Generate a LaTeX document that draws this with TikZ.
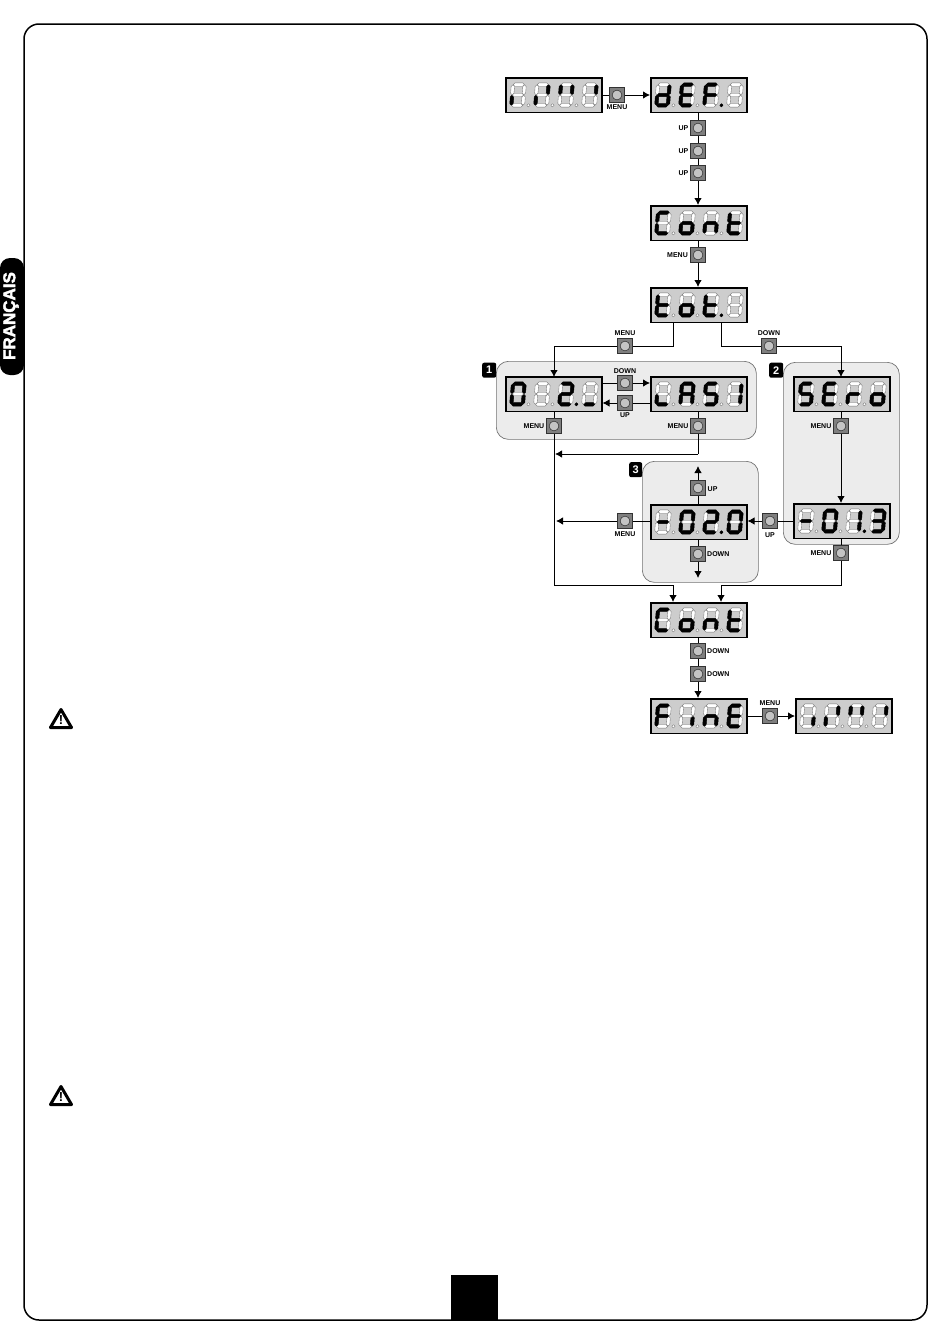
\documentclass[tikz,border=0pt]{standalone}
\usepackage{fontspec}
\setmainfont{Liberation Sans}
\newfontfamily\heavyfont[FakeBold=2.5]{Liberation Sans Bold}
\usetikzlibrary{arrows.meta}
\definecolor{lcd}{HTML}{CDCDCD}
\definecolor{panel}{HTML}{ECECEC}
\definecolor{btngray}{HTML}{7F7F7F}
\definecolor{btnlight}{HTML}{C4C4C4}
\tikzset{
  seglit/.style={fill=black,draw=black,line width=.5pt,line join=round},
  segoff/.style={fill=white,draw=black!55,line width=.35pt},
  dispbox/.style={draw=black,fill=lcd,line width=1.5pt,minimum width=96pt,minimum height=34.5pt,inner sep=0pt,anchor=north west},
  btn/.style={draw=black!80,fill=btngray,line width=.7pt,minimum size=14.5pt,inner sep=0pt,
    path picture={\draw[fill=btnlight,draw=black!85,line width=.5pt] (path picture bounding box.center) circle (4.9pt);}},
  lbl/.style={font=\bfseries\fontsize{7}{7}\selectfont,inner sep=0pt,text=black},
  wire/.style={draw=black,line width=.95pt},
  arrowwire/.style={wire,-{Latex[length=7pt,width=7.5pt]}},
  panelbox/.style={draw=black!55,fill=panel,line width=.7pt,rounded corners=12pt,inner sep=0pt,anchor=north west},
  badge/.style={fill=black,text=white,rounded corners=2pt,inner sep=0pt,minimum width=14pt,minimum height=15pt,anchor=north west,font=\bfseries\fontsize{11}{11}\selectfont},
}
\makeatletter
\newcommand\pickseg[2]{\in@{#1}{#2}\ifin@\def\segsty{seglit}\else\def\segsty{segoff}\fi}
\newcommand\dotseg[1]{\in@{x}{#1}\ifin@\else\path[\segsty] (18.8,-1.7) circle (1.6);\fi}
\makeatother
\newcommand\hseg[3]{\path[\segsty] (#1,#3) -- ({#1+1.7},{#3-1.7}) -- ({#2-1.7},{#3-1.7}) -- (#2,#3) -- ({#2-1.7},{#3+1.7}) -- ({#1+1.7},{#3+1.7}) -- cycle;}
\newcommand\vseg[3]{\path[\segsty] (#1,#2) -- ({#1+1.7},{#2+1.7}) -- ({#1+1.7},{#3-1.7}) -- (#1,#3) -- ({#1-1.7},{#3-1.7}) -- ({#1-1.7},{#2+1.7}) -- cycle;}
\newcommand\sevenseg[3]{%
  \begin{scope}[shift={(#1,#2)},xslant=0.08]
    \pickseg{a}{#3}\hseg{1.9}{13.1}{-22.4}
    \pickseg{b}{#3}\vseg{13.3}{-22.2}{-12.2}
    \pickseg{c}{#3}\vseg{13.3}{-11.8}{-1.8}
    \pickseg{d}{#3}\hseg{1.9}{13.1}{-1.6}
    \pickseg{e}{#3}\vseg{1.7}{-11.8}{-1.8}
    \pickseg{f}{#3}\vseg{1.7}{-22.2}{-12.2}
    \pickseg{g}{#3}\hseg{1.9}{13.1}{-12}
    \pickseg{p}{#3}\dotseg{#3}
  \end{scope}}
\newcommand\lcd[7]{%
  \node[dispbox] (#1) at (#2,#3) {};
  \sevenseg{#2+4.5}{#3+30}{#4}\sevenseg{#2+28.5}{#3+30}{#5}\sevenseg{#2+52.5}{#3+30}{#6}\sevenseg{#2+76.5}{#3+30}{x#7}}
\newcommand\warnsign[2]{%
  \draw[black,line width=3pt,line join=round,fill=white] (61,#1-9.5) -- (71.5,#1+8.5) -- (50.5,#1+8.5) -- cycle;
  \node[font=\bfseries\fontsize{13}{13}\selectfont,inner sep=0pt] (#2) at (61,#1+1.5) {!};}
\begin{document}
\begin{tikzpicture}[x=1pt,y=-1pt]
\useasboundingbox (0,0) rectangle (950,1344);
\fill[white] (0,0) rectangle (950,1344);
% page frame
\draw[black,line width=1.5pt,rounded corners=15pt] (24,24) rectangle (927,1320);
\fill[black,rounded corners=10pt] (24,258) -- (0,258) -- (0,375) -- (24,375) -- cycle;
\node[rotate=90,text=white,font=\heavyfont\fontsize{17}{17}\selectfont,inner sep=0pt] (lang) at (11,316) {FRANÇAIS};
\fill[black] (451,1275) rectangle (498,1320);
\warnsign{719}{warnA}
\warnsign{1096}{warnB}
% panels
\node[panelbox,minimum width=260pt,minimum height=78pt] (p1) at (496,361) {};
\node[panelbox,minimum width=116pt,minimum height=182pt] (p2) at (783,362) {};
\node[panelbox,minimum width=116pt,minimum height=121pt] (p3) at (642,461) {};
\node[badge] (b1) at (482,362.5) {1};
\node[badge] (b2) at (769,362.5) {2};
\node[badge,minimum width=13pt] (b3) at (629,462) {3};
% displays
\lcd{dA}{505}{77}{e}{be}{bf}{b}
\lcd{dB}{650}{77}{bcdeg}{adefg}{aefgp}{}
\lcd{dC}{650}{205}{adef}{cdeg}{ceg}{defg}
\lcd{dT}{650}{287}{defg}{cdeg}{defgp}{}
\lcd{dO}{505}{376}{abcdef}{}{abdegp}{d}
\lcd{dH}{650}{376}{de}{abcefg}{acdfg}{bc}
\lcd{dS}{793}{376}{acdfg}{adefg}{eg}{cdeg}
\lcd{dM}{793}{503}{g}{abcdef}{bcp}{abcdg}
\lcd{dN}{650}{504}{g}{abcdef}{abdegp}{abcdef}
\lcd{dC2}{650}{602}{adef}{cdeg}{ceg}{defg}
\lcd{dF}{650}{698}{aefg}{c}{ceg}{adefg}
\lcd{dZ}{795}{698}{c}{be}{bf}{b}
% buttons
\node[btn] (m1) at (617,95) {};
\node[btn] (u1) at (698,128) {};
\node[btn] (u2) at (698,151) {};
\node[btn] (u3) at (698,173) {};
\node[btn] (m2) at (698,255) {};
\node[btn] (m3) at (625,346) {};
\node[btn] (d1) at (769,346) {};
\node[btn] (d2) at (625,383) {};
\node[btn] (u4) at (625,403) {};
\node[btn] (m4) at (554,426) {};
\node[btn] (m5) at (698,426) {};
\node[btn] (m6) at (841,426) {};
\node[btn] (u5) at (698,488) {};
\node[btn] (m7) at (625,521) {};
\node[btn] (u6) at (770,521) {};
\node[btn] (d3) at (698,554) {};
\node[btn] (m8) at (841,553) {};
\node[btn] (d4) at (698,651) {};
\node[btn] (d5) at (698,674) {};
\node[btn] (m9) at (770,716) {};
% labels
\node[lbl] (lm1) at (617,107) {MENU};
\node[lbl,anchor=east] (lu1) at (688.5,128.5) {UP};
\node[lbl,anchor=east] (lu2) at (688.5,151.5) {UP};
\node[lbl,anchor=east] (lu3) at (688.5,173.5) {UP};
\node[lbl,anchor=east] (lm2) at (688,255.5) {MENU};
\node[lbl] (lm3) at (625,333.5) {MENU};
\node[lbl] (ld1) at (769,333.5) {DOWN};
\node[lbl] (ld2) at (625,371) {DOWN};
\node[lbl] (lu4) at (625,415) {UP};
\node[lbl,anchor=east] (lm4) at (544.5,426.5) {MENU};
\node[lbl,anchor=east] (lm5) at (688.5,426.5) {MENU};
\node[lbl,anchor=east] (lm6) at (831.5,426.5) {MENU};
\node[lbl,anchor=west] (lu5) at (707.5,489.5) {UP};
\node[lbl] (lm7) at (625,534) {MENU};
\node[lbl] (lu6) at (770,535) {UP};
\node[lbl,anchor=west] (ld3) at (707,554.5) {DOWN};
\node[lbl,anchor=east] (lm8) at (831.5,553.5) {MENU};
\node[lbl,anchor=west] (ld4) at (707,651.5) {DOWN};
\node[lbl,anchor=west] (ld5) at (707,674.5) {DOWN};
\node[lbl] (lm9) at (770,703.5) {MENU};
% free points
\coordinate (t1) at (673,322);
\coordinate (t2) at (721,322);
\coordinate (j1) at (554,377);
\coordinate (j2) at (841,377);
\coordinate (j3) at (698,454);
\coordinate (j4) at (555,454);
\coordinate (j5) at (556,521);
\coordinate (j6) at (698,466);
\coordinate (j7) at (698,578);
\coordinate (j8) at (554,585);
\coordinate (j9) at (673,585);
\coordinate (j10) at (721,585);
\coordinate (j11) at (841,585);
\coordinate (j12) at (673,602);
\coordinate (j13) at (721,602);
% connectors
\draw[wire] (dA.east |- m1) -- (m1.west);
\draw[arrowwire] (m1.east) -- (dB.west |- m1);
\draw[wire] (dB.south -| u1) -- (u1.north);
\draw[wire] (u1.south) -- (u2.north);
\draw[wire] (u2.south) -- (u3.north);
\draw[arrowwire] (u3.south) -- (dC.north -| u3);
\draw[wire] (dC.south -| m2) -- (m2.north);
\draw[arrowwire] (m2.south) -- (dT.north -| m2);
\draw[wire] (t1) |- (m3.east);
\draw[arrowwire] (m3.west) -| (j1);
\draw[wire] (t2) |- (d1.west);
\draw[arrowwire] (d1.east) -| (j2);
\draw[wire] (dO.east |- d2) -- (d2.west);
\draw[arrowwire] (d2.east) -- (dH.west |- d2);
\draw[wire] (dH.west |- u4) -- (u4.east);
\draw[arrowwire] (u4.west) -- (dO.east |- u4);
\draw[wire] (dO.south -| m4) -- (m4.north);
\draw[wire] (m4.south) -- (j8) -- (j9);
\draw[arrowwire] (j9) -- (j12);
\draw[wire] (dH.south -| m5) -- (m5.north);
\draw[wire] (m5.south) -- (j3);
\draw[arrowwire] (j3) -- (j4);
\draw[wire] (dS.south -| m6) -- (m6.north);
\draw[arrowwire] (m6.south) -- (dM.north -| m6);
\draw[wire] (dM.west |- u6) -- (u6.east);
\draw[arrowwire] (u6.west) -- (dN.east |- u6);
\draw[wire] (dN.west |- m7) -- (m7.east);
\draw[arrowwire] (m7.west) -- (j5);
\draw[wire] (dN.north -| u5) -- (u5.south);
\draw[arrowwire] (u5.north) -- (j6);
\draw[wire] (dN.south -| d3) -- (d3.north);
\draw[arrowwire] (d3.south) -- (j7);
\draw[wire] (dM.south -| m8) -- (m8.north);
\draw[wire] (m8.south) -- (j11) -- (j10);
\draw[arrowwire] (j10) -- (j13);
\draw[wire] (dC2.south -| d4) -- (d4.north);
\draw[wire] (d4.south) -- (d5.north);
\draw[arrowwire] (d5.south) -- (dF.north -| d5);
\draw[wire] (dF.east |- m9) -- (m9.west);
\draw[arrowwire] (m9.east) -- (dZ.west |- m9);
\end{tikzpicture}
\end{document}
